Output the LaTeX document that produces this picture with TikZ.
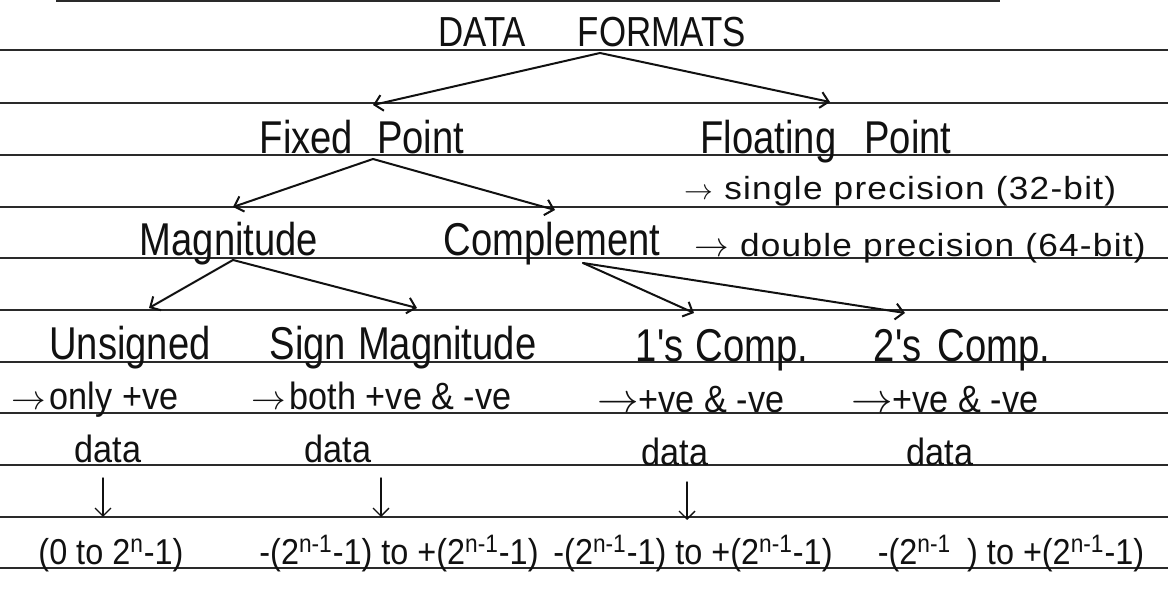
\documentclass[tikz,border=0pt]{standalone}
\usepackage{fontspec}
\usetikzlibrary{arrows.meta, calc}
\newfontfamily\handfont{Liberation Sans}[FakeStretch=0.83]
\newfontfamily\notefont{Liberation Sans}[FakeStretch=0.9]
\newfontfamily\precfont{Liberation Sans}[FakeStretch=1.1, LetterSpace=4]
\definecolor{ink}{HTML}{111111}
\definecolor{rulegray}{HTML}{2A2A2A}
\newcommand{\smallto}[1][18]{{\fontsize{#1}{#1}\selectfont$\rightarrow$}}
\tikzset{
  ttl/.style    = {anchor=base, inner sep=1pt, text=ink,
                   font=\handfont\fontsize{21}{21}\selectfont},
  hd/.style     = {anchor=base, inner sep=1pt, text=ink,
                   font=\handfont\fontsize{23}{23}\selectfont},
  nt/.style     = {anchor=base west, inner sep=0pt, text=ink,
                   font=\notefont\fontsize{19}{19}\selectfont},
  dt/.style     = {anchor=base, inner sep=1pt, text=ink,
                   font=\notefont\fontsize{19}{19}\selectfont},
  rng/.style    = {anchor=base, inner sep=1pt, text=ink,
                   font=\notefont\fontsize{18}{18}\selectfont},
  prc/.style    = {anchor=base west, inner sep=0pt, text=ink,
                   font=\precfont\fontsize{16}{16}\selectfont},
  ruling/.style = {draw=rulegray, line width=0.8pt},
  arr/.style    = {-{Straight Barb[length=4pt, width=8pt]}, line width=1pt,
                   draw=ink, line cap=round},
}

\begin{document}
\begin{tikzpicture}[x=0.5pt, y=-0.5pt]

  \useasboundingbox (0,0) rectangle (1168,592);
  \fill[white] (0,0) rectangle (1168,592);

  % ── ruled paper
  \draw[ruling] (56,1) -- (1000,1);
  \foreach \y in {50,103,155,207,258,310,362,413,465,517,568}
    \draw[ruling] (0,\y) -- (1168,\y);

  % ── title
  \node[ttl] (fmt) at (592,47) {DATA\hspace{26pt}FORMATS};

  % ── level 1
  \node[hd] (fixed) at (362,154) {Fixed\hspace{12pt}Point};
  \node[hd] (float) at (826,154) {Floating\hspace{14pt}Point};
  \node[prc] (single) at (684,200) {\smallto[15]\ single precision (32-bit)};

  % ── level 2
  \node[hd] (mag)  at (229,256) {Magnitude};
  \node[hd] (comp) at (552,256) {Complement};
  \node[prc] (double) at (694,257) {\smallto[17]\ double precision (64-bit)};

  % ── level 3
  \node[hd] (unsig)   at (130,360) {Unsigned};
  \node[hd] (signmag) at (403,360) {Sign\hspace{6pt}Magnitude};
  \node[hd] (ones)    at (722,362) {1's\hspace{6pt}Comp.};
  \node[hd] (twos)    at (962,362) {2's\hspace{8pt}Comp.};

  % ── notes
  \node[nt] (onlypos) at (11,410)  {\smallto\hspace{2pt}only +ve};
  \node[nt] (bothpos) at (251,410) {\smallto\hspace{2pt}both +ve \& -ve};
  \node[nt] (onespos) at (597,413) {\smallto[20]+ve \& -ve};
  \node[nt] (twospos) at (851,413) {\smallto[20]+ve \& -ve};
  \node[dt] (data1) at (108,463) {data};
  \node[dt] (data2) at (338,463) {data};
  \node[dt] (data3) at (675,466) {data};
  \node[dt] (data4) at (940,466) {data};

  % ── ranges
  \node[rng] (rng1) at (111,565) {(0 to 2\textsuperscript{n}-1)};
  \node[rng] (rng2) at (399,565) {-(2\textsuperscript{n-1}-1) to +(2\textsuperscript{n-1}-1)};
  \node[rng] (rng3) at (693,565) {-(2\textsuperscript{n-1}-1) to +(2\textsuperscript{n-1}-1)};
  \node[rng] (rng4) at (1011,565) {-(2\textsuperscript{n-1}\hspace{8pt}) to +(2\textsuperscript{n-1}-1)};

  % ── tree arrows
  \draw[arr] ($(fmt.base)+(8,6)$)    -- ($(fixed.base)+(11,-49)$);
  \draw[arr] ($(fmt.base)+(8,6)$)    -- ($(float.base)+(4,-52)$);
  \draw[arr] ($(fixed.base)+(11,5)$) -- ($(mag.base)+(4,-49)$);
  \draw[arr] ($(fixed.base)+(11,5)$) -- ($(comp.base)+(3,-46)$);
  \draw[arr] ($(mag.base)+(4,4)$)    -- ($(unsig.base)+(19,-52)$);
  \draw[arr] ($(mag.base)+(4,4)$)    -- ($(signmag.base)+(14,-52)$);
  \draw[arr] ($(comp.base)+(31,7)$)  -- ($(ones.base)+(-28,-49)$);
  \draw[arr] ($(comp.base)+(31,7)$)  -- ($(twos.base)+(-57,-49)$);

  % ── data → range
  \draw[arr, line width=0.7pt] ($(data1.base)+(-5,15)$) -- ($(rng1.base)+(-8,-48)$);
  \draw[arr, line width=0.7pt] ($(data2.base)+(43,15)$) -- ($(rng2.base)+(-18,-48)$);
  \draw[arr, line width=0.7pt] ($(data3.base)+(12,16)$) -- ($(rng3.base)+(-6,-45)$);

\end{tikzpicture}
\end{document}
